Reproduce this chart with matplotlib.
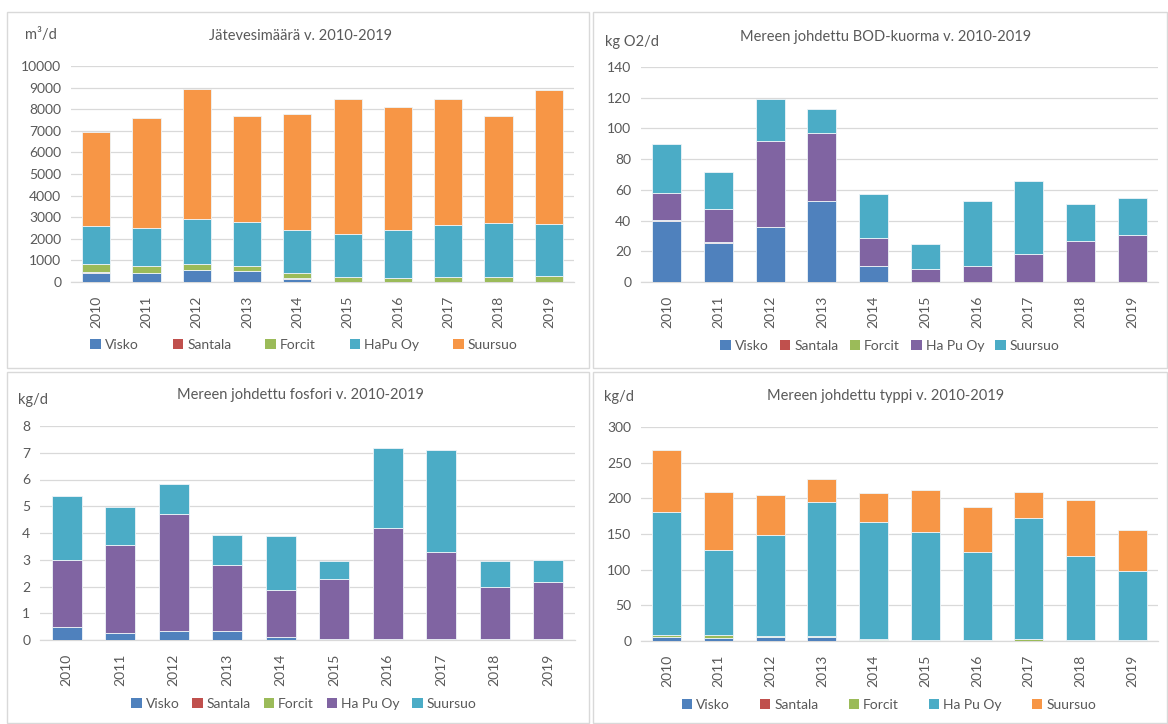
import numpy as np
import matplotlib
matplotlib.use('Agg')
import matplotlib.pyplot as plt
from matplotlib.patches import Rectangle, Patch

plt.rcParams['font.family'] = ['Lato', 'DejaVu Sans']

W, H = 1168, 724

years = ['2010', '2011', '2012', '2013', '2014', '2015', '2016', '2017', '2018', '2019']

# Jätevesimäärä m3/d
vesi_visko = [430, 410, 560, 510, 160, 0, 0, 0, 0, 0]
vesi_santala = [25, 25, 15, 15, 10, 5, 5, 5, 5, 5]
vesi_forcit = [365, 325, 275, 235, 265, 210, 195, 210, 245, 275]
vesi_hapu = [1770, 1750, 2050, 2000, 1985, 2015, 2220, 2420, 2480, 2420]
vesi_suursuo = [4370, 5090, 6015, 4930, 5360, 6220, 5670, 5830, 4945, 6200]

# BOD kg O2/d
bod_visko = [40.0, 25.5, 36.0, 52.5, 10.7, 0, 0, 0, 0, 0]
bod_santala = [0.3, 0.3, 0, 0, 0, 0, 0, 0, 0, 0]
bod_forcit = [0.3, 0.3, 0, 0, 0, 0, 0, 0, 0, 0]
bod_hapu = [17.1, 21.6, 55.7, 44.8, 18.0, 8.7, 10.5, 18.3, 26.8, 30.7]
bod_suursuo = [32.0, 24.1, 27.6, 15.3, 28.8, 15.9, 42.0, 47.2, 23.9, 23.7]

# Fosfori kg/d
p_visko = [0.47, 0.25, 0.32, 0.32, 0.10, 0.02, 0.02, 0.02, 0.02, 0.02]
p_santala = [0.01, 0.01, 0.01, 0.01, 0.0, 0.0, 0.0, 0.0, 0.0, 0.0]
p_forcit = [0.02, 0.02, 0.02, 0.02, 0.01, 0.01, 0.01, 0.01, 0.01, 0.01]
p_hapu = [2.49, 3.28, 4.36, 2.46, 1.77, 2.26, 4.16, 3.25, 1.96, 2.15]
p_suursuo = [2.40, 1.40, 1.12, 1.11, 2.01, 0.67, 2.99, 3.81, 0.95, 0.82]

# Typpi kg/d
n_visko = [5.0, 4.0, 5.0, 5.0, 1.0, 0.3, 0.3, 0.3, 0.3, 0.3]
n_santala = [1.0, 0.5, 0.5, 0.5, 0.2, 0, 0, 0, 0, 0]
n_forcit = [2.0, 4.0, 2.0, 2.0, 1.0, 0.7, 1.7, 2.5, 0.7, 1.5]
n_hapu = [172.8, 119.0, 141.5, 187.0, 164.6, 151.8, 122.8, 169.3, 118.2, 96.6]
n_suursuo = [87.4, 80.8, 55.7, 33.2, 41.2, 58.4, 63.1, 36.9, 78.5, 57.4]

BLUE, RED, GREEN, CYAN, ORANGE, PURPLE = '#4F81BD', '#C0504D', '#9BBB59', '#4BACC6', '#F79646', '#8064A2'
TXT = '#595959'
GRID = '#D9D9D9'

fig = plt.figure(figsize=(W / 100, H / 100), dpi=100)


def px_rect(l, r, t, b):
    return [l / W, 1 - b / H, (r - l) / W, (b - t) / H]


def panel_border(l, r, t, b):
    fig.add_artist(Rectangle((l / W, 1 - b / H), (r - l) / W, (b - t) / H,
                             transform=fig.transFigure, fill=False,
                             edgecolor=GRID, linewidth=1.0))


def draw(box, series, labels, colors, ylim, step, title, title_xy, unit, unit_xy,
         leg_xy, colspace):
    ax = fig.add_axes(px_rect(*box))
    x = np.arange(len(years))
    bottom = np.zeros(len(years))
    for vals, lab, col in zip(series, labels, colors):
        vals = np.array(vals, dtype=float)
        ax.bar(x, vals, 0.56, bottom=bottom, color=col, label=lab,
               edgecolor='#EEF4F8', linewidth=0.6, zorder=3)
        bottom += vals
    ax.set_xlim(-0.5, len(years) - 0.5)
    ax.set_ylim(0, ylim)
    ax.set_yticks(np.arange(0, ylim + step / 2, step))
    ax.set_xticks(x)
    ax.set_xticklabels(years, rotation=90)
    ax.tick_params(axis='y', length=0, labelsize=10, colors=TXT, pad=7)
    ax.tick_params(axis='x', length=0, labelsize=10, colors=TXT, pad=10)
    ax.grid(axis='y', color=GRID, linewidth=0.9, zorder=0)
    for s in ['top', 'right', 'left']:
        ax.spines[s].set_visible(False)
    ax.spines['bottom'].set_color(GRID)
    ax.spines['bottom'].set_linewidth(0.9)
    fig.text(title_xy[0] / W, 1 - title_xy[1] / H, title, ha='center', va='center',
             fontsize=10.5, color=TXT)
    fig.text(unit_xy[0] / W, 1 - unit_xy[1] / H, unit, ha='left', va='center',
             fontsize=10.5, color=TXT)
    handles = [Patch(facecolor=c, edgecolor='none') for c in colors]
    fig.legend(handles, labels, loc='center', ncol=5, frameon=False,
               bbox_to_anchor=(leg_xy[0] / W, 1 - leg_xy[1] / H),
               fontsize=10, labelcolor=TXT, handlelength=0.75, handleheight=0.75,
               handletextpad=0.3, columnspacing=colspace)
    return ax


panel_border(7, 589, 12, 368)
panel_border(593, 1167, 12, 368)
panel_border(7, 589, 372, 723)
panel_border(593, 1167, 372, 723)

draw((71, 574, 66, 282),
     [vesi_visko, vesi_santala, vesi_forcit, vesi_hapu, vesi_suursuo],
     ['Visko', 'Santala', 'Forcit', 'HaPu Oy', 'Suursuo'],
     [BLUE, RED, GREEN, CYAN, ORANGE], 10000, 1000,
     'Jätevesimäärä v. 2010-2019', (300, 36), 'm³/d', (25, 35), (304, 345), 2.45)

draw((641, 1158, 67, 282),
     [bod_visko, bod_santala, bod_forcit, bod_hapu, bod_suursuo],
     ['Visko', 'Santala', 'Forcit', 'Ha Pu Oy', 'Suursuo'],
     [BLUE, RED, GREEN, PURPLE, CYAN], 140, 20,
     'Mereen johdettu BOD-kuorma v. 2010-2019', (886, 37), 'kg O2/d', (605, 42),
     (890, 346), 0.8)

draw((40, 575, 426, 640),
     [p_visko, p_santala, p_forcit, p_hapu, p_suursuo],
     ['Visko', 'Santala', 'Forcit', 'Ha Pu Oy', 'Suursuo'],
     [BLUE, RED, GREEN, PURPLE, CYAN], 8, 1,
     'Mereen johdettu fosfori v. 2010-2019', (300, 395), 'kg/d', (18, 400),
     (304, 704), 0.9)

draw((641, 1158, 427, 641),
     [n_visko, n_santala, n_forcit, n_hapu, n_suursuo],
     ['Visko', 'Santala', 'Forcit', 'Ha Pu Oy', 'Suursuo'],
     [BLUE, RED, GREEN, CYAN, ORANGE], 300, 50,
     'Mereen johdettu typpi v. 2010-2019', (886, 396), 'kg/d', (604, 397),
     (889, 705), 2.15)

fig.savefig('out.png', dpi=100, facecolor='white')
